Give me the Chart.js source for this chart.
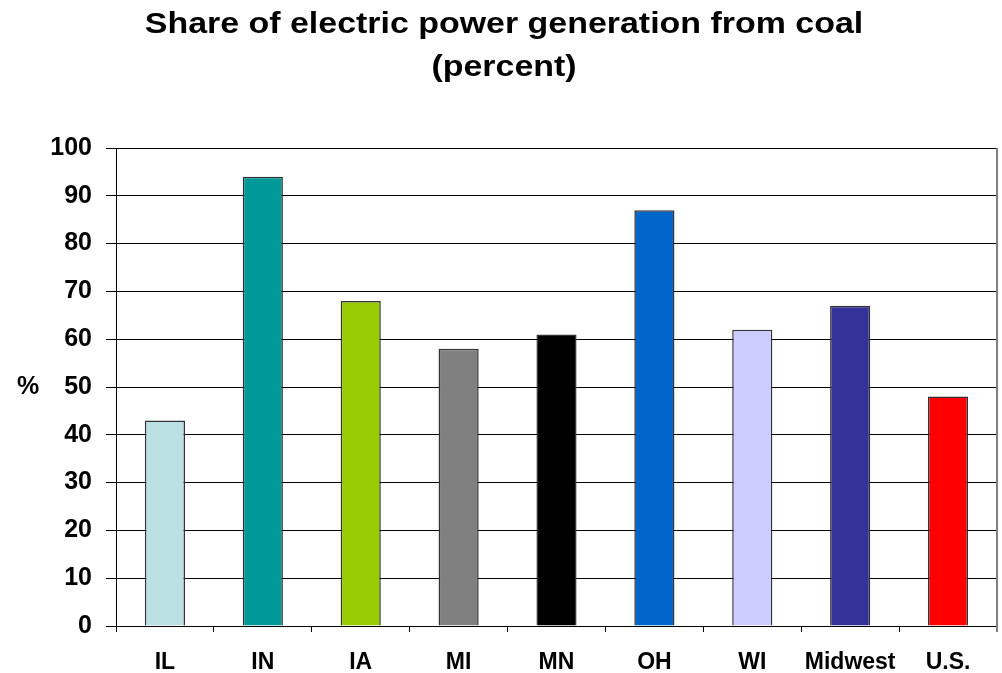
<!DOCTYPE html>
<html>
<head>
<meta charset="utf-8">
<script src="https://cdn.jsdelivr.net/npm/chart.js@4/dist/chart.umd.min.js"></script>
<style>
  html, body { margin: 0; padding: 0; background: #ffffff; }
  #wrap { width: 1002px; height: 673px; }
</style>
</head>
<body>
<div id="wrap"><canvas id="c" width="1002" height="673"></canvas></div>
<script>
// Share of electric power generation from coal, by state
const categories = ['IL', 'IN', 'IA', 'MI', 'MN', 'OH', 'WI', 'Midwest', 'U.S.'];
const coalShare = [43, 94, 68, 58, 61, 87, 62, 67, 48];
const barColors = ['#BBE0E3', '#009999', '#99CC00', '#808080', '#000000', '#0066CC', '#CCCCFF', '#333399', '#FF0000'];
const yTickValues = [0, 10, 20, 30, 40, 50, 60, 70, 80, 90, 100];
const titleLines = ['Share of electric power generation from coal', '(percent)'];
const yAxisLabel = '%';

const FONT = '"Liberation Sans", Arial, Helvetica, sans-serif';

// Title, horizontal axis label and the grey right frame edge
const decorations = {
  id: 'decorations',
  afterDraw(chart) {
    const ctx = chart.ctx;
    const area = chart.chartArea;
    ctx.save();
    // right frame edge
    ctx.strokeStyle = '#808080';
    ctx.lineWidth = 2;
    ctx.beginPath();
    ctx.moveTo(area.right, area.top);
    ctx.lineTo(area.right, area.bottom + 6);
    ctx.stroke();

    ctx.fillStyle = '#000000';
    ctx.textAlign = 'center';
    ctx.textBaseline = 'alphabetic';
    ctx.font = 'bold 29px ' + FONT;
    titleLines.forEach((line, i) => {
      ctx.save();
      ctx.translate(504, 33 + i * 43);
      ctx.scale(1.17, 1);
      ctx.fillText(line, 0, 0);
      ctx.restore();
    });
    ctx.textBaseline = 'middle';
    ctx.font = 'bold 25px ' + FONT;
    ctx.fillText(yAxisLabel, 28, 387);
    ctx.restore();
  }
};

new Chart(document.getElementById('c'), {
  type: 'bar',
  data: {
    labels: categories,
    datasets: [{
      data: coalShare,
      backgroundColor: barColors,
      borderColor: '#333333',
      borderWidth: 1.5,
      barPercentage: 0.41,
      categoryPercentage: 1.0
    }]
  },
  options: {
    responsive: false,
    animation: false,
    devicePixelRatio: 1,
    layout: { padding: { top: 148, right: 5, left: 0, bottom: 0 } },
    plugins: {
      legend: { display: false },
      title: { display: false },
      tooltip: { enabled: false }
    },
    scales: {
      x: {
        afterFit(scale) { scale.height = 47; },
        grid: {
          offset: true,
          drawOnChartArea: false,
          drawTicks: true,
          tickLength: 6,
          color: '#000000',
          lineWidth: 1
        },
        border: { display: true, color: '#000000', width: 1 },
        ticks: {
          autoSkip: false,
          maxRotation: 0,
          padding: 17,
          color: '#000000',
          font: { family: FONT, size: 23, weight: 'bold' }
        }
      },
      y: {
        min: 0,
        max: 100,
        afterFit(scale) { scale.width = 116; },
        afterBuildTicks(scale) { scale.ticks = yTickValues.map(v => ({ value: v })); },
        grid: {
          color: '#000000',
          lineWidth: 1,
          drawTicks: true,
          tickLength: 10
        },
        border: { display: true, color: '#000000', width: 1 },
        ticks: {
          padding: 14,
          color: '#000000',
          font: { family: FONT, size: 25, weight: 'bold' }
        }
      }
    }
  },
  plugins: [decorations]
});
</script>
</body>
</html>
